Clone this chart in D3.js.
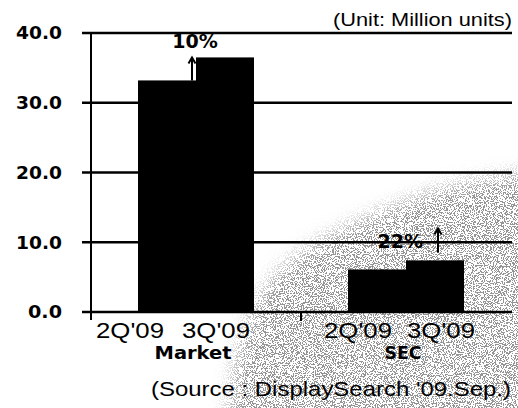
<!DOCTYPE html>
<html>
<head>
<meta charset="utf-8">
<script src="https://cdn.jsdelivr.net/npm/d3@7/dist/d3.min.js"></script>
<style>
  html, body { margin: 0; padding: 0; background: #fff; }
  svg { display: block; }
</style>
</head>
<body>
<svg id="chart" width="518" height="408"></svg>
<script>
// Shipments, million units
const groups = ["Market", "SEC"];
const quarters = ["2Q'09", "3Q'09"];
const marketValues = [33.2, 36.5];
const secValues = [6.1, 7.4];
const growthLabels = ["10%", "22%"];
const yTicks = [0, 10, 20, 30, 40];
const unitNote = "(Unit: Million units)";
const sourceNote = "(Source : DisplaySearch '09.Sep.)";

const seriesByGroup = { Market: marketValues, SEC: secValues };

const svg = d3.select("#chart");
const W = 518, H = 408;
const axisX = 91, rightX = 512;

const y = d3.scaleLinear().domain([0, 40]).range([312, 33]);
const x0 = d3.scaleBand().domain(groups).range([axisX, 511]);
const barW = 58;
const x1 = d3.scaleBand().domain(quarters).range([0, barW * 2]);
const groupPad = (x0.bandwidth() - barW * 2) / 2;

// ---- halftone backdrop in the lower right ----
const defs = svg.append("defs");
const f = defs.append("filter").attr("id", "grain")
  .attr("x", 0).attr("y", 0).attr("width", W).attr("height", H)
  .attr("filterUnits", "userSpaceOnUse");
f.append("feTurbulence").attr("type", "fractalNoise")
  .attr("baseFrequency", 0.9).attr("numOctaves", 2).attr("seed", 7).attr("result", "n");
f.append("feColorMatrix").attr("type", "matrix")
  .attr("values", "0 0 0 0 0.25  0 0 0 0 0.25  0 0 0 0 0.25  1 0 0 0 0").attr("result", "a");
const ct = f.append("feComponentTransfer");
ct.append("feFuncA").attr("type", "discrete")
  .attr("tableValues", "0 0 0 0 0 0 0 0 0.9 0.9 0.9 0.9 1 1 1");

// soft-edged region for the halftone
const blur = defs.append("filter").attr("id", "soft")
  .attr("x", -0.2).attr("y", -0.2).attr("width", 1.4).attr("height", 1.4);
blur.append("feGaussianBlur").attr("stdDeviation", 9);

const mask = defs.append("mask").attr("id", "shade")
  .attr("maskUnits", "userSpaceOnUse")
  .attr("x", 0).attr("y", 0).attr("width", W).attr("height", H);
mask.append("path")
  .attr("d", d3.line().curve(d3.curveBasis)([
    [560, 168], [470, 180], [430, 192], [390, 207], [350, 224],
    [310, 246], [280, 268], [256, 298], [242, 335], [232, 372], [226, 450]
  ]) + "L560,450Z")
  .attr("fill", "#fff")
  .attr("filter", "url(#soft)");

svg.append("g").attr("mask", "url(#shade)")
  .append("rect").attr("x", 0).attr("y", 0).attr("width", W).attr("height", H)
  .attr("fill", "#fff").attr("filter", "url(#grain)");

// ---- gridlines with short left ticks ----
svg.append("g").selectAll("line").data(yTicks).join("line")
  .attr("x1", axisX - 9).attr("x2", rightX)
  .attr("y1", d => y(d)).attr("y2", d => y(d))
  .attr("stroke", "#000").attr("stroke-width", 2.6);

// vertical axis
svg.append("line")
  .attr("x1", axisX).attr("x2", axisX)
  .attr("y1", y(40)).attr("y2", y(0) + 8)
  .attr("stroke", "#000").attr("stroke-width", 2);

// group divider tick on the baseline
svg.append("line")
  .attr("x1", x0("SEC")).attr("x2", x0("SEC"))
  .attr("y1", y(0)).attr("y2", y(0) + 9)
  .attr("stroke", "#000").attr("stroke-width", 2);

// y tick labels
const yAxis = d3.axisLeft(y).tickValues(yTicks).tickFormat(d3.format(".1f"))
  .tickSize(0).tickPadding(29);
const yg = svg.append("g").attr("transform", `translate(${axisX},0)`).call(yAxis);
yg.select(".domain").remove();
yg.selectAll("text")
  .attr("font-family", "DejaVu Sans")
  .attr("font-weight", "bold")
  .attr("font-size", 18)
  .attr("fill", "#000")
  .attr("textLength", d => d === 0 ? 34 : 46)
  .attr("lengthAdjust", "spacingAndGlyphs");

// ---- bars ----
const gBars = svg.append("g").selectAll("g").data(groups).join("g")
  .attr("transform", d => `translate(${x0(d) + groupPad},0)`);
gBars.selectAll("rect")
  .data(g => quarters.map((q, i) => ({ q, v: seriesByGroup[g][i] })))
  .join("rect")
  .attr("x", d => x1(d.q))
  .attr("width", x1.bandwidth())
  .attr("y", d => y(d.v))
  .attr("height", d => y(0) - y(d.v))
  .attr("fill", "#000");

// ---- quarter labels under each group ----
const labelNudge = { Market: [-37, -9], SEC: [-19, 6] };
gBars.selectAll("text.q")
  .data(g => quarters.map((q, i) => ({ g, q, i })))
  .join("text").attr("class", "q")
  .attr("x", d => x1(d.q) + x1.bandwidth() / 2 + labelNudge[d.g][d.i])
  .attr("y", 338)
  .attr("text-anchor", "middle")
  .attr("font-family", "Liberation Sans, Arial, sans-serif")
  .attr("font-size", 22)
  .attr("textLength", 68)
  .attr("lengthAdjust", "spacingAndGlyphs")
  .text(d => d.q);

// group names
svg.append("g").selectAll("text").data(groups).join("text")
  .attr("x", d => x0(d) + x0.bandwidth() / 2 - 3)
  .attr("y", 359)
  .attr("text-anchor", "middle")
  .attr("font-family", "DejaVu Sans Condensed, DejaVu Sans")
  .attr("font-weight", "bold")
  .attr("font-size", 18)
  .attr("textLength", d => d === "Market" ? 77 : 37)
  .attr("lengthAdjust", "spacingAndGlyphs")
  .text(d => d);

// ---- growth callouts ----
function arrow(xp, yBottom, yTop) {
  const a = svg.append("g").attr("stroke", "#000").attr("stroke-width", 2).attr("fill", "none");
  a.append("line").attr("x1", xp).attr("x2", xp).attr("y1", yBottom).attr("y2", yTop);
  a.append("path").attr("d", `M${xp - 3.5},${yTop + 6}L${xp},${yTop}L${xp + 3.5},${yTop + 6}`);
}

// Market: arrow spans the rise from 2Q to 3Q just left of the 3Q bar, label above
{
  const vals = seriesByGroup.Market;
  const bx = x0("Market") + groupPad + x1("3Q'09") - 4;
  arrow(bx, y(vals[0]), y(vals[1]));
  svg.append("text")
    .attr("x", bx + 3).attr("y", 48)
    .attr("text-anchor", "middle")
    .attr("font-family", "DejaVu Sans").attr("font-weight", "bold")
    .attr("font-size", 19)
    .text(growthLabels[0]);
}
// SEC: label with an arrow to its right, above the 3Q bar
{
  const vals = seriesByGroup.SEC;
  const ax = x0("SEC") + groupPad + x1("3Q'09") + x1.bandwidth() / 2 + 3;
  arrow(ax, y(vals[1]) - 8, y(vals[1]) - 32);
  svg.append("text")
    .attr("x", ax - 15).attr("y", 248)
    .attr("text-anchor", "end")
    .attr("font-family", "DejaVu Sans").attr("font-weight", "bold")
    .attr("font-size", 19)
    .text(growthLabels[1]);
}

// ---- notes ----
svg.append("text")
  .attr("x", 512).attr("y", 26).attr("text-anchor", "end")
  .attr("font-family", "Liberation Sans, Arial, sans-serif")
  .attr("font-size", 18)
  .attr("textLength", 179).attr("lengthAdjust", "spacingAndGlyphs")
  .text(unitNote);

svg.append("text")
  .attr("x", 511).attr("y", 396).attr("text-anchor", "end")
  .attr("font-family", "Liberation Sans, Arial, sans-serif")
  .attr("font-size", 21)
  .attr("textLength", 360).attr("lengthAdjust", "spacingAndGlyphs")
  .text(sourceNote);
</script>
</body>
</html>
